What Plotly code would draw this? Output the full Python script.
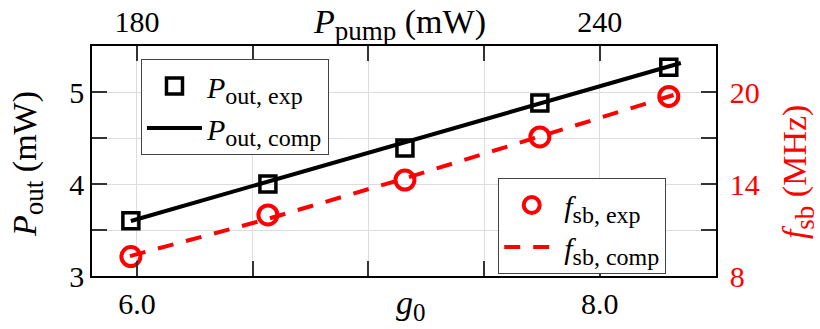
import plotly.graph_objects as go

# Measured points
g0_exp = [5.974, 6.566, 7.158, 7.741, 8.298]
p_out_exp = [3.60, 4.00, 4.39, 4.88, 5.27]
f_sb_exp = [9.27, 11.98, 14.26, 17.07, 19.71]

# Computed curves
g0_comp_p = [5.974, 6.566, 7.158, 7.741, 8.35]
p_out_comp = [3.598, 4.026, 4.453, 4.875, 5.315]
g0_comp_f = [5.970, 6.549, 7.149, 7.741, 8.333]
f_sb_comp = [9.30, 11.65, 14.33, 17.07, 19.87]

# Pump power corresponding to the top axis
pump_mw = [179.2, 197.0, 214.7, 232.2, 249.0]

# Axis ticks (labelled majors, unlabelled minors)
x_major = [6.0, 8.0]
x_major_text = ["6.0", "8.0"]
x_minor = [6.5, 7.0, 7.5]
top_major = [180, 240]
top_minor = [195, 210, 225]
yl_major = [3, 4, 5]
yl_minor = [3.5, 4.5]
yr_major = [8, 14, 20]
yr_minor = [11, 17]

FONT = "'Liberation Serif', 'Times New Roman', serif"
RED = "#ff0000"
GRID = "#dddddd"
TICKC = "#333333"


def sym(base, sub, sub_px):
    """Italic symbol with an upright subscript of a given pixel size."""
    return (f"<i>{base}</i><sub><span style='font-size:{sub_px}px'>"
            f"{sub}</span></sub>")


fig = go.Figure()

fig.add_trace(go.Scatter(
    x=g0_exp, y=p_out_exp, mode="markers",
    name=sym("P", "out, exp", 24),
    marker=dict(symbol="square-open", size=16, color="black",
                line=dict(width=3.5, color="black")),
    legend="legend", xaxis="x", yaxis="y"))
fig.add_trace(go.Scatter(
    x=g0_comp_p, y=p_out_comp, mode="lines",
    name=sym("P", "out, comp", 24),
    line=dict(color="black", width=4),
    legend="legend", xaxis="x", yaxis="y"))
fig.add_trace(go.Scatter(
    x=g0_exp, y=f_sb_exp, mode="markers",
    name=sym("f", "sb, exp", 24),
    marker=dict(symbol="circle-open", size=19, color=RED,
                line=dict(width=4, color=RED)),
    legend="legend2", xaxis="x", yaxis="y2"))
fig.add_trace(go.Scatter(
    x=g0_comp_f, y=f_sb_comp, mode="lines",
    name=sym("f", "sb, comp", 24),
    line=dict(color=RED, width=4, dash="16px,13px"),
    legend="legend2", xaxis="x", yaxis="y2"))
# invisible trace that carries the top (pump power) axis
fig.add_trace(go.Scatter(
    x=pump_mw, y=p_out_exp, mode="markers", marker=dict(opacity=0),
    showlegend=False, hoverinfo="skip", xaxis="x2", yaxis="y"))

tickfont = dict(family=FONT, size=30, color="black")
common = dict(showline=True, linecolor="black", linewidth=1.5,
              ticks="inside", ticklen=15, tickwidth=1.5, tickcolor=TICKC,
              zeroline=False, automargin=False)


def minor(vals, grid):
    return dict(tickvals=vals, ticks="inside", ticklen=15, tickwidth=1.5,
                tickcolor=TICKC, showgrid=grid, gridcolor=GRID, gridwidth=1)


def title_note(text, x, y, angle=0, color="black"):
    return dict(text=text, xref="paper", yref="paper", x=x, y=y,
                xanchor="center", yanchor="middle", showarrow=False,
                textangle=angle, font=dict(family=FONT, size=34, color=color))


legend_style = dict(xanchor="left", yanchor="top", bgcolor="white",
                    bordercolor="#444", borderwidth=1,
                    font=dict(family=FONT, size=30, color="black"),
                    itemwidth=55, tracegroupgap=0)

fig.update_layout(
    width=820, height=329,
    margin=dict(l=92, r=104, t=46, b=53),
    paper_bgcolor="white", plot_bgcolor="white",
    font=dict(family=FONT, color="black"),
    xaxis=dict(range=[5.806, 8.502], tickmode="array", tickvals=x_major,
               ticktext=x_major_text, showgrid=True, gridcolor=GRID,
               tickfont=tickfont, minor=minor(x_minor, True), **common),
    xaxis2=dict(range=[174.18, 255.06], tickmode="array", tickvals=top_major,
                overlaying="x", side="top", showgrid=False,
                tickfont=tickfont, minor=minor(top_minor, False), **common),
    yaxis=dict(range=[3, 5.5], tickmode="array", tickvals=yl_major,
               showgrid=True, gridcolor=GRID, tickfont=tickfont,
               minor=minor(yl_minor, True), **common),
    yaxis2=dict(range=[8, 23], tickmode="array", tickvals=yr_major,
                overlaying="y", side="right", showgrid=False,
                tickfont=dict(family=FONT, size=30, color=RED),
                ticklabelstandoff=6, minor=minor(yr_minor, False), **common),
    legend=dict(x=0.0785, y=0.943, **legend_style),
    legend2=dict(x=0.651, y=0.426, **legend_style),
    annotations=[
        title_note(sym("P", "pump", 27) + " (mW)", 0.492, 1.093),
        title_note(sym("g", "0", 25), 0.511, -0.128),
        title_note(sym("P", "out", 27) + " (mW)", -0.1026, 0.487, -90),
        title_note(sym("f", "sb", 27) + " (MHz)", 1.131, 0.455, -90, RED),
    ],
)

fig.write_html("out.html")
